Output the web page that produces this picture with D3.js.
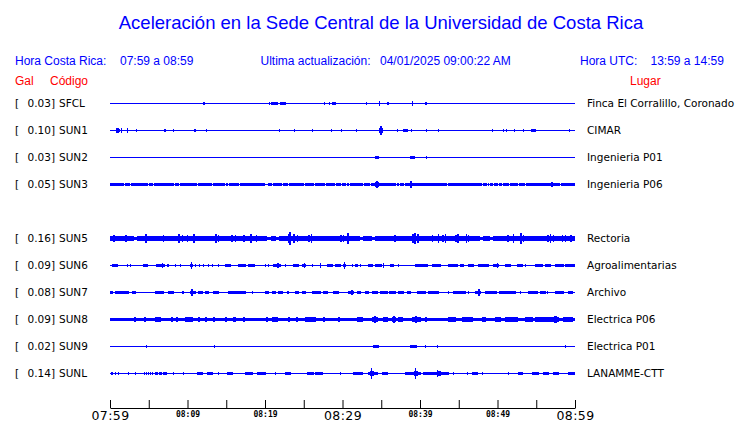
<!DOCTYPE html>
<html><head><meta charset="utf-8">
<script src="https://cdn.jsdelivr.net/npm/d3@7"></script>
<style>html,body{margin:0;padding:0;background:#fff;} svg{display:block;}</style>
</head><body><svg id="chart" width="740" height="423"></svg>
<script>
// ---------- data ----------
const title = "Aceleración en la Sede Central de la Universidad de Costa Rica";
const headerLeft = ["Hora Costa Rica:", "07:59 a 08:59"];
const headerMid = ["Ultima actualización:", "04/01/2025 09:00:22 AM"];
const headerRight = ["Hora UTC:", "13:59 a 14:59"];
const columnHeads = ["Gal", "Código", "Lugar"];

const rowSlots = ["SFCL","SUN1","SUN2","SUN3","SUN4","SUN5","SUN6","SUN7","SUN8","SUN9","SUNL"];
const stationCodes = ["SFCL","SUN1","SUN2","SUN3","SUN5","SUN6","SUN7","SUN8","SUN9","SUNL"];
const peakGal = ["0.03","0.10","0.03","0.05","0.16","0.09","0.08","0.09","0.02","0.14"];
const places = ["Finca El Corralillo, Coronado","CIMAR","Ingenieria P01","Ingenieria P06","Rectoria",
                "Agroalimentarias","Archivo","Electrica P06","Electrica P01","LANAMME-CTT"];

const samplesPerHour = 465; // envelope samples (~7.7 s each) over the hour
// envelope runs: [fromSample, toSample, halfAmplitude]
const envSFCL = [[93,94,1],[159,159,1],[161,167,1],[170,175,1],[214,214,1],[219,219,1],[222,225,1],
  [256,256,1],[269,269,2],[277,278,1],[302,302,2],[315,316,1]];
const envSUN1 = [[6,8,2],[9,9,1],[11,11,2],[17,17,2],[26,26,1],[54,55,1],[63,63,1],[84,85,1],[96,96,1],
  [169,169,1],[184,184,1],[202,202,1],[221,221,1],[231,231,1],[246,246,1],[269,269,2],[270,271,4],[272,272,2],
  [287,287,1],[293,297,1],[301,301,1],[316,316,1],[328,328,1],[382,382,1],[393,393,1],[396,396,1],[404,404,1],
  [413,413,1],[421,425,1],[459,459,1]];
const envSUN2 = [[265,268,1],[300,304,1],[316,316,1]];
const envSUN3 = [[0,464,1],[14,14,0],[20,20,0],[38,38,0],[43,43,0],[64,64,0],[69,69,0],[87,87,0],[102,102,0],
  [115,115,0],[118,118,0],[129,129,0],[155,157,0],[162,162,0],[172,172,0],[178,178,0],[194,194,0],[204,204,0],
  [215,215,0],[225,225,0],[231,231,0],[236,236,0],[239,239,0],[253,253,0],[260,260,0],[286,286,0],[289,289,0],
  [294,294,0],[337,337,0],[372,372,0],[377,377,0],[379,379,0],[383,383,0],[388,388,0],[392,392,0],[399,399,0],
  [408,408,0],[415,415,0],[450,450,0],
  [265,268,2],[266,267,3],[300,301,3],[441,442,2]];
const envSUN5 = [[0,464,2],[24,26,1],[157,160,1],[166,168,1],[250,252,1],[262,264,1],[370,372,1],[380,382,1],
  [3,4,3],[15,16,3],[35,36,4],[53,53,3],
  [68,69,4],[72,72,3],[77,77,3],[83,84,4],
  [105,106,4],[108,108,3],[121,122,3],[125,125,3],[133,134,3],[140,141,4],[146,146,3],
  [178,178,4],[179,180,6],[183,184,4],[187,187,3],[198,199,3],[201,201,4],[230,231,3],[233,233,3],[237,238,5],
  [284,285,3],[302,303,4],[304,305,5],[307,308,4],[322,322,3],[328,328,4],[332,333,3],[335,335,4],
  [345,346,3],[347,348,4],[356,356,4],[358,358,3],
  [397,398,3],[403,403,4],[410,411,5],[413,413,3],
  [437,438,3],[440,440,4],[443,443,3],[452,452,3],[455,455,3],[460,461,3]];
const envSUN6 = [[2,7,1],[17,17,1],[20,20,1],[33,37,1],[46,48,1],[49,54,1],[52,52,2],[57,58,1],[65,65,1],
  [70,70,1],[80,82,1],[81,81,3],[85,85,1],[89,89,1],[93,93,1],[98,98,1],[102,102,1],[108,108,1],[115,120,1],
  [128,135,1],[138,144,1],[155,155,1],[158,158,1],[163,170,1],[167,168,2],[175,175,1],[183,188,1],[192,195,1],
  [194,194,2],[202,202,1],[210,210,2],[217,222,1],[225,230,1],[233,235,1],[234,234,3],[242,242,1],[245,247,1],
  [250,250,1],[258,262,1],[265,271,1],[273,273,2],[280,283,1],[288,288,1],[305,317,1],[322,330,1],[338,347,1],
  [350,353,1],[358,363,1],[368,378,1],[383,388,1],[387,387,2],[395,400,1],[407,412,1],[415,415,1],[425,432,1],
  [435,440,1],[445,453,1],[455,464,1]];
const envSUN7 = [[0,2,1],[5,18,1],[22,25,1],[45,53,1],[58,63,1],[72,73,1],[80,85,1],[81,82,3],[88,92,1],
  [95,98,1],[103,108,1],[118,132,1],[133,135,1],[142,142,1],[155,158,1],[162,165,1],[168,172,1],[177,178,1],
  [185,188,1],[192,195,1],[202,210,1],[213,217,1],[223,228,1],[238,243,1],[241,242,2],[247,250,1],[255,258,1],
  [262,267,1],[270,277,1],[279,285,1],[288,293,1],[297,300,1],[307,315,1],[318,328,1],[338,338,1],[343,355,1],
  [358,358,1],[365,370,1],[368,369,3],[375,386,1],[389,405,1],[410,410,1],[418,427,1],[430,435,1],[437,437,1],
  [445,453,1],[458,462,1]];
const envSUN8 = [[0,464,1],[24,25,2],[34,35,2],[45,50,2],[61,62,2],[66,67,2],[75,82,2],[88,89,2],[95,96,2],
  [103,104,2],[115,116,2],[123,125,2],[133,134,2],[156,157,2],[162,167,2],[178,179,2],[186,187,2],[195,205,2],
  [213,214,2],[228,229,2],[247,252,2],[262,267,2],[264,265,3],[273,277,2],[282,285,2],[283,284,3],[288,292,2],
  [302,310,2],[305,306,3],[315,316,2],[338,345,2],[352,362,2],[372,375,2],[385,390,2],[395,407,2],[415,422,2],
  [425,448,2],[444,446,3],[453,462,2]];
const envSUN9 = [[36,36,1],[104,104,1],[263,268,1],[300,306,1],[315,315,1],[327,327,1],[455,455,1]];
const envSUNL = [[1,2,1],[5,5,1],[8,8,1],[18,18,1],[25,25,1],[34,34,1],[36,36,1],[38,38,1],[40,40,1],[42,42,1],
  [45,47,1],[49,51,1],[53,56,1],[63,63,1],[73,73,1],[87,92,1],[97,102,1],[108,108,1],[117,122,1],[135,142,1],
  [147,155,1],[165,165,1],[175,180,1],[197,203,1],[205,212,1],[230,230,1],[243,252,1],
  [258,267,1],[260,263,2],[261,261,5],[272,277,1],[295,302,1],[303,310,1],[304,307,2],[305,305,5],
  [313,325,1],[326,338,1],[328,330,2],[327,327,3],[343,343,1],[357,357,1],[362,367,1],[372,372,1],
  [398,398,1],[408,412,1],[422,428,1],[433,438,1],[443,448,1],[458,464,1]];
const envelopes = [envSFCL, envSUN1, envSUN2, envSUN3, envSUN5, envSUN6, envSUN7, envSUN8, envSUN9, envSUNL];

const majorTickLabels = ["07:59","08:29","08:59"];
const minorTickLabels = ["08:09","08:19","08:39","08:49"];

// ---------- chart ----------
const svg = d3.select("#chart");
const blue = "#0000ff", red = "#ff0000";
const startTime = new Date(2025, 0, 4, 7, 59), endTime = new Date(2025, 0, 4, 8, 59);
const x = d3.scaleTime().domain([startTime, endTime]).range([110, 575]);
const yRow = d3.scalePoint().domain(rowSlots).range([103, 373]);
const sampleTime = i => new Date(startTime.getTime() + i * 3600000 / samplesPerHour);

svg.append("text").attr("x", 381).attr("y", 29).attr("text-anchor", "middle")
  .attr("font-family", "Liberation Sans, Arial, sans-serif").attr("font-size", 18.5)
  .attr("fill", blue).text(title);

const hdr = svg.append("g").attr("font-family", "Liberation Sans, Arial, sans-serif")
  .attr("font-size", 12).attr("fill", blue);
[[15, headerLeft[0]], [120, headerLeft[1]], [260.5, headerMid[0]], [380, headerMid[1]],
 [580, headerRight[0]], [650.5, headerRight[1]]].forEach(([px, t]) =>
  hdr.append("text").attr("x", px).attr("y", 65).text(t));
const ch = svg.append("g").attr("font-family", "Liberation Sans, Arial, sans-serif")
  .attr("font-size", 12).attr("fill", red);
[[15, columnHeads[0]], [50, columnHeads[1]], [630, columnHeads[2]]].forEach(([px, t]) =>
  ch.append("text").attr("x", px).attr("y", 85).text(t));

const area = d3.area().curve(d3.curveStepAfter);

stationCodes.forEach((code, k) => {
  const cy = yRow(code);
  const amp = d3.scaleLinear().domain([-1, 1]).range([cy + 1, cy - 1]);
  const vals = new Array(samplesPerHour).fill(0);
  envelopes[k].forEach(([s, e, v]) => { for (let i = s; i <= e; i++) vals[i] = v; });
  const pts = vals.map((v, i) => ({ t: sampleTime(i), v }));
  pts.push({ t: sampleTime(samplesPerHour), v: vals[samplesPerHour - 1] });
  area.x(d => x(d.t)).y1(d => amp(d.v)).y0(d => amp(-d.v - 1));
  svg.append("path").datum(pts).attr("d", area).attr("fill", blue)
    .attr("shape-rendering", "crispEdges");

  const g = svg.append("g").attr("font-family", "DejaVu Sans, sans-serif")
    .attr("font-size", 10.5).attr("fill", "#000");
  g.append("text").attr("x", 15).attr("y", cy + 4).text("[");
  g.append("text").attr("x", 55).attr("y", cy + 4).attr("text-anchor", "end").text(peakGal[k] + "]");
  g.append("text").attr("x", 59).attr("y", cy + 4).text(code);
  g.append("text").attr("x", 587).attr("y", cy + 4).text(places[k]);
});

// time axis
const tickTimes = d3.range(0, 13).map(i => new Date(startTime.getTime() + i * 5 * 60000));
const axis = d3.axisBottom(x).tickValues(tickTimes).tickSizeInner(-8).tickSizeOuter(0)
  .tickFormat(d3.timeFormat("%H:%M"));
const ax = svg.append("g").attr("transform", "translate(0,408)").call(axis);
ax.select(".domain").attr("stroke", "#000");
ax.selectAll(".tick line").attr("stroke", "#000");
ax.selectAll(".tick text").each(function(d) {
  const lab = d3.timeFormat("%H:%M")(d);
  const t = d3.select(this).attr("dy", null).attr("fill", "#000");
  if (majorTickLabels.includes(lab)) {
    t.attr("y", 12).attr("font-family", "DejaVu Sans, sans-serif").attr("font-size", 12.5)
     .attr("letter-spacing", 0.4).text(lab);
  } else if (minorTickLabels.includes(lab)) {
    t.attr("y", 9).attr("font-family", "DejaVu Sans Mono, monospace").attr("font-size", 8)
     .attr("font-weight", "bold").text(lab);
  } else {
    t.text("");
  }
});
</script></body></html>
